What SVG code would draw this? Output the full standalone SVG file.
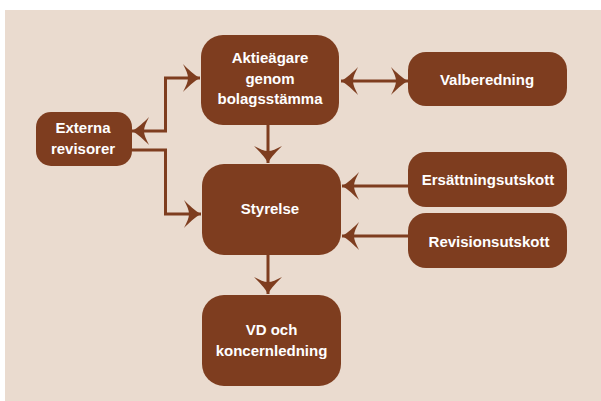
<svg xmlns="http://www.w3.org/2000/svg" width="601" height="401" viewBox="0 0 601 401">
<style>
.node{fill:#7e3d1f;}
.lbl{font-family:"Liberation Sans",Arial,sans-serif;font-weight:bold;font-size:15px;fill:#ffffff;text-anchor:middle;}
.con{fill:none;stroke:#7e3d1f;stroke-width:3;}
</style>
<defs>
<marker id="ah" markerUnits="userSpaceOnUse" viewBox="-18 -15 19 30" refX="0" refY="0" markerWidth="19" markerHeight="30" orient="auto-start-reverse">
<path d="M0,0 C-6,-3 -12,-9 -17,-14 C-14,-8 -12,-4 -12,0 C-12,4 -14,8 -17,14 C-12,9 -6,3 0,0 Z" fill="#7e3d1f"/>
</marker>
</defs>
<rect x="5" y="10" width="596" height="391" fill="#eadbcf"/>
<g id="connectors">
<path class="con" d="M268,125 V163" marker-end="url(#ah)"/>
<path class="con" d="M268,255 V294" marker-end="url(#ah)"/>
<path class="con" d="M341,81 H408" marker-start="url(#ah)" marker-end="url(#ah)"/>
<path class="con" d="M408,186 H342" marker-end="url(#ah)"/>
<path class="con" d="M408,236 H342" marker-end="url(#ah)"/>
<path class="con" d="M200,78 H165.5 V131 H132" marker-start="url(#ah)" marker-end="url(#ah)"/>
<path class="con" d="M132,150 H165.5 V214 H201" marker-end="url(#ah)"/>
</g>
<g id="aktieagare">
<rect class="node" x="201" y="35" width="138" height="90" rx="22"/>
<text class="lbl" x="270" y="63">Aktieägare</text>
<text class="lbl" x="270" y="83.5">genom</text>
<text class="lbl" x="270" y="104">bolagsstämma</text>
</g>
<g id="valberedning">
<rect class="node" x="408" y="52" width="159" height="54" rx="18"/>
<text class="lbl" x="487" y="85">Valberedning</text>
</g>
<g id="externa">
<rect class="node" x="36" y="112" width="96" height="54" rx="15"/>
<text class="lbl" x="83" y="133">Externa</text>
<text class="lbl" x="83" y="154">revisorer</text>
</g>
<g id="styrelse">
<rect class="node" x="202" y="164" width="139" height="91" rx="22"/>
<text class="lbl" x="270" y="214">Styrelse</text>
</g>
<g id="ersattning">
<rect class="node" x="408" y="152" width="159" height="55" rx="18"/>
<text class="lbl" x="488" y="184.5">Ersättningsutskott</text>
</g>
<g id="revision">
<rect class="node" x="408" y="213" width="159" height="55" rx="18"/>
<text class="lbl" x="489" y="246.5">Revisionsutskott</text>
</g>
<g id="vd">
<rect class="node" x="202" y="295" width="139" height="91" rx="22"/>
<text class="lbl" x="271.5" y="335">VD och</text>
<text class="lbl" x="271.5" y="356">koncernledning</text>
</g>
</svg>
